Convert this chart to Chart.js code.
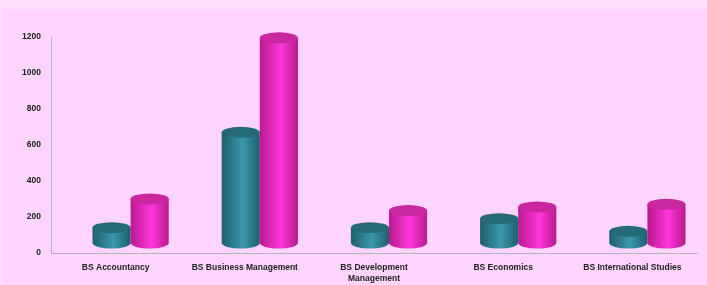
<!DOCTYPE html>
<html><head><meta charset="utf-8">
<script src="https://cdn.jsdelivr.net/npm/chart.js@4/dist/chart.umd.min.js"></script>
<style>
html,body{margin:0;padding:0;background:#ffe1ff;width:707px;height:285px;overflow:hidden}
#wrap{position:absolute;left:2px;top:9px;width:705px;height:276px;background:#ffd5ff}
#c{position:absolute;left:0;top:0}
</style></head><body>
<div id="wrap"></div>
<canvas id="c" width="707" height="285"></canvas>
<script>
const categories = ['BS Accountancy', 'BS Business Management', ['BS Development', 'Management'], 'BS Economics', 'BS International Studies'];
const seriesTeal = [85, 615, 85, 135, 65];
const seriesMagenta = [245, 1140, 180, 200, 215];
const yTicks = [0, 200, 400, 600, 800, 1000, 1200];

const DX = 15, DY = 10, RY = 5.5;
const palettes = [
  {edge:'#1d5f6d', mid:'#3b97ab', top:'#266a78'},
  {edge:'#b8198f', mid:'#ff36dc', top:'#c8279f'}
];
const cylinders = {
  id:'cylinders',
  beforeDatasetsDraw(chart){
    const ctx = chart.ctx;
    const metas = chart.getSortedVisibleDatasetMetas();
    const n = chart.data.labels.length;
    for (let i=0;i<n;i++){
      metas.forEach((meta, di)=>{
        const el = meta.data[i];
        const p = palettes[di];
        const w = el.width;
        const cx = el.x + DX;
        const l = cx - w/2, r = cx + w/2, rx = w/2;
        const ty = el.y - DY, by = el.base - DY;
        const g = ctx.createLinearGradient(l,0,r,0);
        g.addColorStop(0,p.edge); g.addColorStop(0.55,p.mid); g.addColorStop(1,p.edge);
        ctx.save();
        ctx.beginPath();
        ctx.moveTo(l,ty);
        ctx.lineTo(l,by);
        ctx.ellipse(cx,by,rx,RY,0,Math.PI,0,true);
        ctx.lineTo(r,ty);
        ctx.closePath();
        ctx.fillStyle=g; ctx.fill();
        ctx.beginPath();
        ctx.ellipse(cx,ty,rx,RY,0,0,Math.PI*2);
        ctx.fillStyle=p.top; ctx.fill();
        ctx.restore();
      });
    }
    return false;
  }
};

new Chart(document.getElementById('c'), {
  type:'bar',
  data:{
    labels: categories,
    datasets:[
      {label:'Series 1', data: seriesTeal, backgroundColor:'#2f8597'},
      {label:'Series 2', data: seriesMagenta, backgroundColor:'#f02fd0'}
    ]
  },
  options:{
    responsive:false, animation:false,
    layout:{padding:{top:37,right:10,left:0,bottom:0}},
    plugins:{legend:{display:false}, tooltip:{enabled:false}},
    datasets:{bar:{categoryPercentage:0.59, barPercentage:1}},
    scales:{
      x:{
        grid:{display:false, drawTicks:false},
        border:{display:true,color:'#b4b4b4',width:1},
        ticks:{color:'#222', font:{family:'Liberation Sans, Arial', size:8.5, weight:'bold'}, padding:10, maxRotation:0, autoSkip:false},
        afterFit(s){ s.height = 32; }
      },
      y:{
        min:0, max:1200,
        afterBuildTicks(s){ s.ticks = yTicks.map(v=>({value:v})); },
        grid:{display:false, drawTicks:false},
        border:{display:true,color:'#b4b4b4',width:1},
        ticks:{color:'#222', font:{family:'Liberation Sans, Arial', size:8.5, weight:'bold'}, padding:10, callback:(v)=>String(v)},
        afterFit(s){ s.width = 51; }
      }
    }
  },
  plugins:[cylinders]
});
</script>
</body></html>
